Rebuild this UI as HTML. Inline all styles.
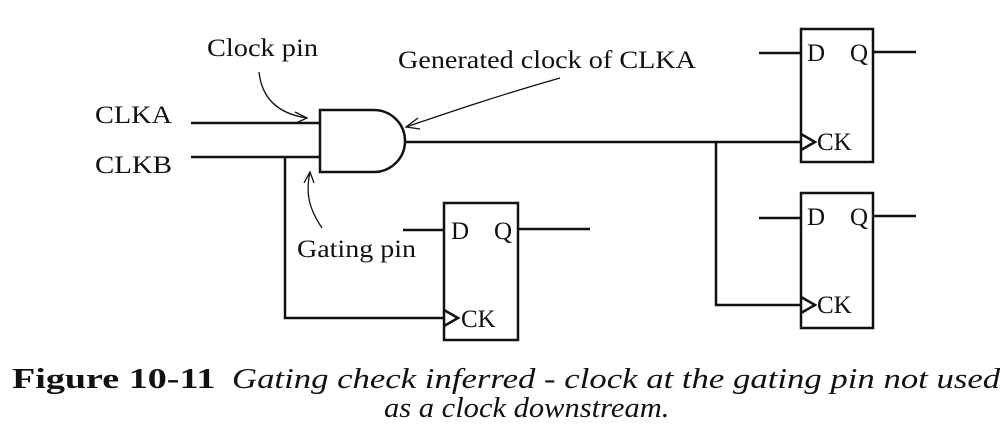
<!DOCTYPE html>
<html><head><meta charset="utf-8"><style>
html,body{margin:0;padding:0;background:#fff;width:1005px;height:439px;overflow:hidden;position:relative}
svg{display:block;position:absolute;left:0;top:0}
.c{position:absolute;font-family:"Liberation Serif",serif;font-size:28px;color:#111;white-space:nowrap;line-height:1;transform-origin:0 0}
</style></head><body>
<svg width="1005" height="439" viewBox="0 0 1005 439" xmlns="http://www.w3.org/2000/svg" font-family="'Liberation Serif', serif">
<g stroke="#111" stroke-width="2.5" fill="none">
<line x1="191" y1="123" x2="320" y2="123"/>
<line x1="191" y1="157" x2="320" y2="157"/>
<polyline points="285,157 285,318 444,318"/>
<path d="M320,110 L374,110 A31,31 0 0 1 374,172 L320,172 Z"/>
<line x1="405" y1="142" x2="801" y2="142"/>
<polyline points="716,142 716,305 801,305"/>
<rect x="801" y="29" width="72" height="133"/>
<line x1="759" y1="53" x2="801" y2="53"/>
<line x1="873" y1="52" x2="916" y2="52"/>
<polyline points="801,134 815,142 801,150"/>
<rect x="801" y="193" width="72" height="135"/>
<line x1="759" y1="218" x2="801" y2="218"/>
<line x1="873" y1="216" x2="916" y2="216"/>
<polyline points="801,297 815,305 801,313"/>
<rect x="444" y="203" width="74" height="137"/>
<line x1="403" y1="230" x2="444" y2="230"/>
<line x1="518" y1="229" x2="590" y2="229"/>
<polyline points="444,310 458,318 444,326"/>
</g>
<g stroke="#111" stroke-width="1.3" fill="none">
<path d="M259,72 C262,100 280,114 307,118"/>
<polyline points="295,112 307,118 296,123"/>
<path d="M560,78 C500,95 450,112 406,127"/>
<polyline points="418,118 406,127 420,129"/>
<path d="M322,228 C310,210 305,195 310,172"/>
<polyline points="304,183 310,172 314,183"/>
</g>
<g font-size="25" fill="#111">
<text x="207" y="56" textLength="111" lengthAdjust="spacingAndGlyphs">Clock pin</text>
<text x="398" y="68" textLength="298" lengthAdjust="spacingAndGlyphs">Generated clock of CLKA</text>
<text x="95" y="123" textLength="77" lengthAdjust="spacingAndGlyphs">CLKA</text>
<text x="95" y="173" textLength="77" lengthAdjust="spacingAndGlyphs">CLKB</text>
<text x="297" y="257" textLength="119" lengthAdjust="spacingAndGlyphs">Gating pin</text>
<text x="807" y="61">D</text><text x="850" y="61">Q</text>
<text x="817" y="150">CK</text>
<text x="807" y="225">D</text><text x="850" y="225">Q</text>
<text x="817" y="313">CK</text>
<text x="451" y="239">D</text><text x="494" y="239">Q</text>
<text x="461" y="327">CK</text>
</g>
</svg>
<div class="c" style="left:12px;top:366px;font-weight:bold;transform:scaleX(1.36)">Figure 10-11</div>
<div class="c" style="left:232px;top:366px;font-style:italic;transform:scaleX(1.24)">Gating check inferred - clock at the gating pin not used</div>
<div class="c" style="left:384px;top:395px;font-style:italic;transform:scaleX(1.09)">as a clock downstream.</div>
</body></html>
